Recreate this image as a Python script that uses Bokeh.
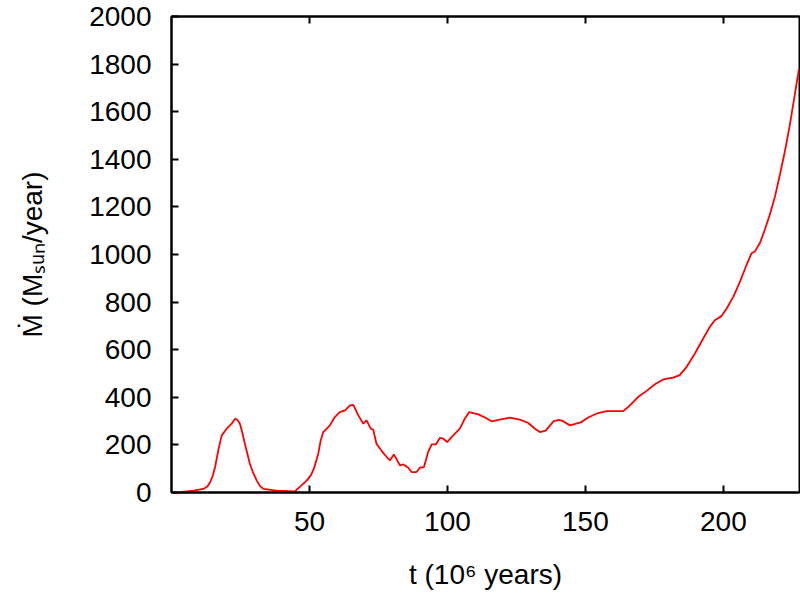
from bokeh.plotting import figure
from bokeh.models import LinearAxis, FixedTicker, Range1d
from bokeh.embed import file_html
from bokeh.resources import INLINE

# time (10^6 years)
t = [3, 8, 11.5, 13, 14, 15, 15.8, 17, 18.2, 20, 21.8, 22.6, 23.2, 23.9, 24.8,
     25.7, 26.6, 28.4, 29.7, 30.9, 32, 33.3, 38,
     44.7, 46.6, 49, 50.5, 51.6, 53.2, 54, 55, 57.4, 59.2, 61, 62.9, 64.7, 65.9,
     67.7, 69.5,
     70.7, 72.2, 73.1, 74.3, 76.2, 78, 79.2, 80.6, 82.8, 84, 85.8, 87, 88.8, 90,
     91.5, 93, 94.3, 95.8, 97.3, 98.5, 99.9, 101.5, 104.5, 106.3, 107.9, 111.2,
     113.6, 116, 119, 122.6, 126.3, 129.3, 131.7, 133.5, 135.6, 138.5, 140.5,
     141.8, 144.4, 148.6, 151, 154.6, 157.7, 163.7, 165.5, 169.1, 172.2, 175.2,
     178.2, 181.8, 184.2, 186.7, 189.7, 192.7, 195.1, 196.9, 199.3, 201.2, 203.6,
     206, 208.4, 210.2, 211.4, 213.2, 215, 216.8, 218.7, 220.5, 222.3, 224.1,
     225.6, 227.4]
# accretion rate (M_sun / year)
mdot = [2, 8, 15, 25, 43, 72, 107, 180, 240, 268, 289, 303, 310, 305, 289,
        250, 205, 121, 80, 50, 28, 15, 8,
        5, 25, 50, 72, 100, 163, 215, 254, 282, 317, 338, 345, 366, 368,
        324, 289,
        303, 268, 264, 205, 174, 149, 135, 160, 114, 118, 104, 86, 86, 104,
        107, 170, 202, 202, 230, 226, 212, 233, 268, 310, 338, 328,
        315, 299, 306, 315, 306, 292, 268, 254, 260, 300, 305,
        300, 282, 296, 315, 334, 342, 342, 359, 401, 427, 455,
        475, 483, 493, 528, 584, 647, 696, 724, 741, 773, 822,
        885, 956, 1005, 1012, 1047, 1103, 1166, 1243, 1335, 1433, 1545,
        1651, 1780]

x_ticks = [50, 100, 150, 200]
y_ticks = [0, 200, 400, 600, 800, 1000, 1200, 1400, 1600, 1800, 2000]
x_label = "t (10\u2076 years)"
y_label = "\u1e40 (M\u209b\u1d64\u2099/year)"

FONT = "Liberation Sans"
FS = "28px"

p = figure(width=800, height=597, output_backend="svg", toolbar_location=None,
           x_range=Range1d(0, 227.6), y_range=Range1d(0, 2000),
           min_border_left=171, min_border_right=1, min_border_top=16,
           min_border_bottom=105, x_axis_location=None, y_axis_location=None)
p.grid.visible = False
p.outline_line_color = "black"
p.outline_line_width = 2
p.background_fill_color = "white"
p.border_fill_color = "white"

def style(ax, ticks, labels=True):
    ax.ticker = FixedTicker(ticks=ticks)
    ax.axis_line_width = 2
    ax.axis_line_color = "black"
    ax.major_tick_in = 7
    ax.major_tick_out = 0
    ax.major_tick_line_width = 2
    ax.minor_tick_line_color = None
    ax.major_label_text_font = FONT
    ax.major_label_text_font_size = FS
    ax.major_label_text_color = "black"
    ax.axis_label_text_font = FONT
    ax.axis_label_text_font_size = FS
    ax.axis_label_text_font_style = "normal"
    ax.axis_label_text_color = "black"
    if not labels:
        ax.major_label_text_font_size = "0px"
        ax.major_label_text_color = None
        ax.major_label_standoff = 0

xb = LinearAxis(axis_label=x_label)
style(xb, x_ticks)
xb.major_label_standoff = 19
xb.axis_label_standoff = 25

yl = LinearAxis(axis_label=y_label)
style(yl, y_ticks)
yl.major_label_standoff = 20
yl.axis_label_standoff = 38

xt = LinearAxis()
style(xt, x_ticks, labels=False)

p.add_layout(xb, "below")
p.add_layout(yl, "left")
p.add_layout(xt, "above")

p.line(t, mdot, line_color="red", line_width=1.8)

open("out.html", "w").write(file_html(p, INLINE))
